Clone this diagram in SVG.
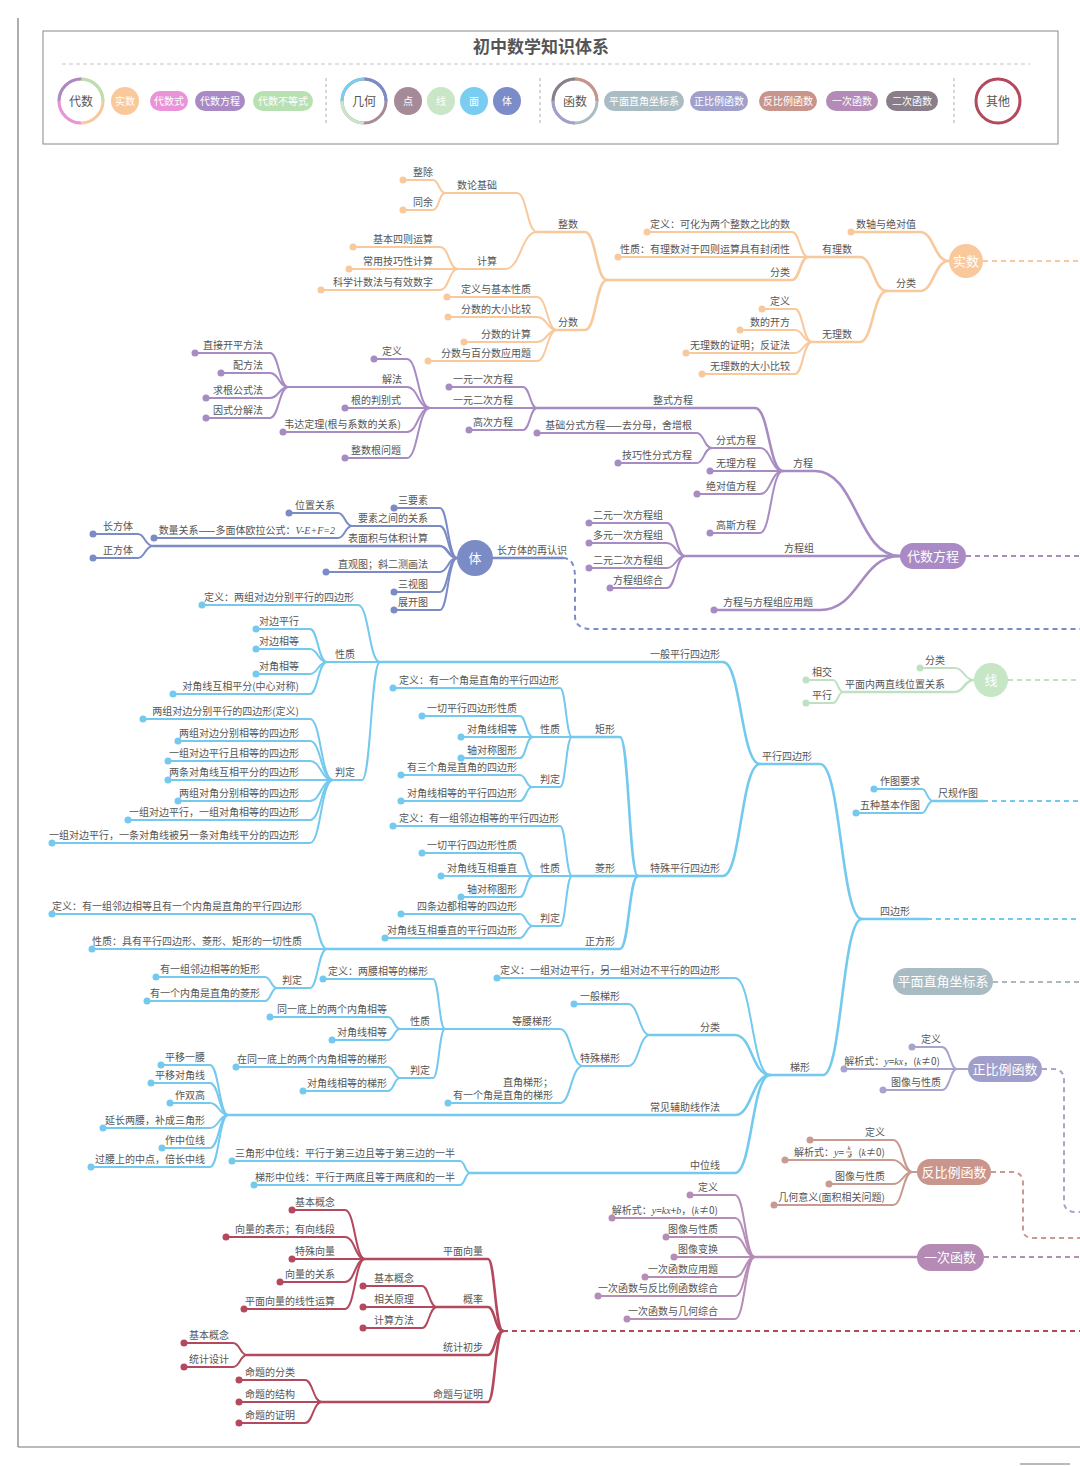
<svg xmlns="http://www.w3.org/2000/svg" width="1080" height="1466" viewBox="0 0 1080 1466">
<style>
text{font-family:"Noto Sans CJK SC","Noto Sans",sans-serif;font-size:10px;fill:#555}
.e{text-anchor:end}.m{text-anchor:middle}
.w{fill:#fff}
.mi{font-family:"Liberation Serif",serif;font-style:italic}
path{fill:none;stroke-width:2;stroke-linecap:round}
.o{stroke:#f7c99d}.p{stroke:#a78bc3}.b{stroke:#7a8bc6}.c{stroke:#74c9ef}.g{stroke:#c0e1c1}
.z{stroke:#a7a5cc}.f{stroke:#c99a92}.y{stroke:#b68db7}.r{stroke:#b4485c}.q{stroke:#abb8bf}
.k{stroke-width:2.6}
.d{stroke-dasharray:5 4;stroke-linecap:butt}
.do{fill:#f7c99d}.dp{fill:#a78bc3}.db{fill:#7a8bc6}.dc{fill:#74c9ef}.dg{fill:#c0e1c1}
.dz{fill:#a7a5cc}.df{fill:#c99a92}.dy{fill:#b68db7}.dr{fill:#b4485c}
</style>
<g id="frame">
<line x1="18" y1="18" x2="18" y2="1447" stroke="#777" stroke-width="1.2"/>
<line x1="18" y1="1447" x2="1080" y2="1447" stroke="#777" stroke-width="1.2"/>
<line x1="1020" y1="1464" x2="1070" y2="1464" stroke="#777" stroke-width="1.2"/>
</g>
<g id="legend">
<rect x="43" y="31" width="1015" height="113" fill="none" stroke="#888" stroke-width="1"/>
<text x="541" y="53" class="m" style="font-size:17px;font-weight:bold;fill:#555">初中数学知识体系</text>
<line x1="62" y1="64" x2="1030" y2="64" stroke="#c4c4c4" stroke-width="1.2" stroke-dasharray="4 3"/>
<g id="lg-daishu">
<circle cx="81" cy="101" r="22" fill="#fff" stroke="#f8c89c" stroke-width="3"/>
<circle cx="81" cy="101" r="22" fill="none" stroke="#e994d8" stroke-width="3" stroke-dasharray="34.5 103.7" stroke-dashoffset="-34.5"/>
<circle cx="81" cy="101" r="22" fill="none" stroke="#a98ac4" stroke-width="3" stroke-dasharray="34.5 103.7" stroke-dashoffset="-69"/>
<circle cx="81" cy="101" r="22" fill="none" stroke="#b9e0b2" stroke-width="3" stroke-dasharray="34.5 103.7" stroke-dashoffset="-103.6"/>
<text x="81" y="106" class="m" style="font-size:12px">代数</text>
</g>
<g id="lg-shishu"><circle cx="125" cy="101" r="14" fill="#f9c89b"/><text x="125" y="105" class="m w">实数</text></g>
<g id="lg-daishushi"><rect x="150" y="91" width="38" height="20" rx="10" fill="#e994d8"/><text x="169" y="105" class="m w">代数式</text></g>
<g id="lg-fangcheng"><rect x="195" y="91" width="50" height="20" rx="10" fill="#a98ac4"/><text x="220" y="105" class="m w">代数方程</text></g>
<g id="lg-budengshi"><rect x="253" y="91" width="60" height="20" rx="10" fill="#b9e0b2"/><text x="283" y="105" class="m w">代数不等式</text></g>
<line x1="326" y1="78" x2="326" y2="124" stroke="#bbb" stroke-width="1.2" stroke-dasharray="3 3"/>
<g id="lg-jihe">
<circle cx="364" cy="101" r="22" fill="#fff" stroke="#a58b98" stroke-width="3"/>
<circle cx="364" cy="101" r="22" fill="none" stroke="#c9e6c6" stroke-width="3" stroke-dasharray="34.5 103.7" stroke-dashoffset="-34.5"/>
<circle cx="364" cy="101" r="22" fill="none" stroke="#79cdf0" stroke-width="3" stroke-dasharray="34.5 103.7" stroke-dashoffset="-69"/>
<circle cx="364" cy="101" r="22" fill="none" stroke="#7c8cc8" stroke-width="3" stroke-dasharray="34.5 103.7" stroke-dashoffset="-103.6"/>
<text x="364" y="106" class="m" style="font-size:12px">几何</text>
</g>
<g id="lg-dian"><circle cx="408" cy="101" r="14" fill="#a58b98"/><text x="408" y="105" class="m w">点</text></g>
<g id="lg-xian"><circle cx="441" cy="101" r="14" fill="#c9e6c6"/><text x="441" y="105" class="m w">线</text></g>
<g id="lg-mian"><circle cx="474" cy="101" r="14" fill="#79cdf0"/><text x="474" y="105" class="m w">面</text></g>
<g id="lg-ti"><circle cx="507" cy="101" r="14" fill="#7c8cc8"/><text x="507" y="105" class="m w">体</text></g>
<line x1="540" y1="78" x2="540" y2="124" stroke="#bbb" stroke-width="1.2" stroke-dasharray="3 3"/>
<g id="lg-hanshu">
<circle cx="575" cy="101" r="22" fill="#fff" stroke="#a9bcc4" stroke-width="3"/>
<circle cx="575" cy="101" r="22" fill="none" stroke="#a1a0cc" stroke-width="3" stroke-dasharray="34.5 103.7" stroke-dashoffset="-34.5"/>
<circle cx="575" cy="101" r="22" fill="none" stroke="#8a7e8a" stroke-width="3" stroke-dasharray="34.5 103.7" stroke-dashoffset="-69"/>
<circle cx="575" cy="101" r="22" fill="none" stroke="#c8958d" stroke-width="3" stroke-dasharray="34.5 103.7" stroke-dashoffset="-103.6"/>
<text x="575" y="106" class="m" style="font-size:12px">函数</text>
</g>
<g id="lg-zuobiao"><rect x="604" y="91" width="80" height="20" rx="10" fill="#a9bcc4"/><text x="644" y="105" class="m w">平面直角坐标系</text></g>
<g id="lg-zheng"><rect x="690" y="91" width="58" height="20" rx="10" fill="#a1a0cc"/><text x="719" y="105" class="m w">正比例函数</text></g>
<g id="lg-fan"><rect x="759" y="91" width="58" height="20" rx="10" fill="#c8958d"/><text x="788" y="105" class="m w">反比例函数</text></g>
<g id="lg-yici"><rect x="826" y="91" width="52" height="20" rx="10" fill="#b48bb7"/><text x="852" y="105" class="m w">一次函数</text></g>
<g id="lg-erci"><rect x="886" y="91" width="52" height="20" rx="10" fill="#8a7e8a"/><text x="912" y="105" class="m w">二次函数</text></g>
<line x1="954" y1="78" x2="954" y2="124" stroke="#bbb" stroke-width="1.2" stroke-dasharray="3 3"/>
<g id="lg-qita"><circle cx="998" cy="101" r="22" fill="#fff" stroke="#b4485c" stroke-width="3"/><text x="998" y="106" class="m" style="font-size:12px">其他</text></g>
</g>

<g id="connectors">
<!-- 实数 -->
<path class="o k" d="M851 232H920C934 232 934 261 949 261"/>
<path class="o k" d="M887 291H920C934 291 934 261 949 261"/>
<path class="o k" d="M808 257H860C873 257 873 291 887 291"/>
<path class="o k" d="M812 342H860C873 342 873 291 887 291"/>
<path class="o" d="M647 232H792C800 232 800 257 808 257"/>
<path class="o" d="M618 257H808"/>
<path class="o k" d="M607 280H792C800 280 800 257 808 257"/>
<path class="o k" d="M537 232H585C596 232 596 280 607 280"/>
<path class="o k" d="M557 330H585C596 330 596 280 607 280"/>
<path class="o" d="M445 193H517C527 193 527 232 537 232"/>
<path class="o" d="M458 269H505C521 269 521 232 537 232"/>
<path class="o" d="M403 180H433C439 180 439 193 445 193"/>
<path class="o" d="M403 210H433C439 210 439 193 445 193"/>
<path class="o" d="M353 247H440C449 247 449 269 458 269"/>
<path class="o" d="M349 269H458"/>
<path class="o" d="M321 290H440C449 290 449 269 458 269"/>
<path class="o" d="M447 297H537C547 297 547 330 557 330"/>
<path class="o" d="M448 317H537C547 317 547 330 557 330"/>
<path class="o" d="M464 342H537C547 342 547 330 557 330"/>
<path class="o" d="M428 361H537C547 361 547 330 557 330"/>
<path class="o" d="M762 309H795C803 309 803 342 812 342"/>
<path class="o" d="M740 330H795C803 330 803 342 812 342"/>
<path class="o" d="M686 353H795C803 353 803 342 812 342"/>
<path class="o" d="M702 374H795C803 374 803 342 812 342"/>
<path class="o d" d="M983 261H1080"/>
<!-- 代数方程 -->
<path class="p k" d="M783 471H815C857 471 857 556 900 556"/>
<path class="p k" d="M685 556H900"/>
<path class="p k" d="M714 610H820C860 610 860 556 900 556"/>
<path class="p k" d="M537 408H755C769 408 769 471 783 471"/>
<path class="p" d="M712 448H760C771 448 771 471 783 471"/>
<path class="p" d="M710 471H783"/>
<path class="p" d="M697 494H760C771 494 771 471 783 471"/>
<path class="p" d="M710 533H760C771 533 771 471 783 471"/>
<path class="p" d="M449 387H523C530 387 530 408 537 408"/>
<path class="p" d="M430 408H537"/>
<path class="p" d="M469 430H523C530 430 530 408 537 408"/>
<path class="p" d="M374 359H407C418 359 418 408 430 408"/>
<path class="p" d="M288 387H407C418 387 418 408 430 408"/>
<path class="p" d="M345 408H430"/>
<path class="p" d="M283 432H407C418 432 418 408 430 408"/>
<path class="p" d="M345 458H407C418 458 418 408 430 408"/>
<path class="p" d="M195 353H270C279 353 279 387 288 387"/>
<path class="p" d="M221 373H270C279 373 279 387 288 387"/>
<path class="p" d="M206 398H270C279 398 279 387 288 387"/>
<path class="p" d="M206 418H270C279 418 279 387 288 387"/>
<path class="p" d="M537 433H697C704 433 704 448 712 448"/>
<path class="p" d="M618 463H697C704 463 704 448 712 448"/>
<path class="p" d="M589 523H667C676 523 676 556 685 556"/>
<path class="p" d="M589 543H667C676 543 676 556 685 556"/>
<path class="p" d="M589 568H667C676 568 676 556 685 556"/>
<path class="p" d="M610 588H667C676 588 676 556 685 556"/>
<path class="p d" d="M966 556H1080"/>
<!-- 体 -->
<path class="b k" d="M493 558H563"/>
<path class="b d" d="M563 558C572 558 575 566 575 578V616C575 625 581 629 592 629H1080"/>
<path class="b" d="M394 508H440C448 508 448 558 457 558"/>
<path class="b" d="M352 526H440C448 526 448 558 457 558"/>
<path class="b k" d="M153 546H440C448 546 448 558 457 558"/>
<path class="b" d="M326 572H440C448 572 448 558 457 558"/>
<path class="b" d="M394 592H440C448 592 448 558 457 558"/>
<path class="b" d="M394 610H440C448 610 448 558 457 558"/>
<path class="b k" d="M457 558H475"/>
<path class="b" d="M289 513H338C345 513 345 526 352 526"/>
<path class="b" d="M154 538H338C345 538 345 526 352 526"/>
<path class="b" d="M93 534H138C145 534 145 546 153 546"/>
<path class="b" d="M93 558H138C145 558 145 546 153 546"/>
<!-- 面: 四边形 -->
<path class="c k" d="M862 919H927"/>
<path class="c d" d="M927 919H1080"/>
<path class="c k" d="M760 764H820C841 764 841 919 862 919"/>
<path class="c k" d="M770 1075H823C842 1075 842 919 862 919"/>
<path class="c k" d="M380 662H723C741 662 741 764 760 764"/>
<path class="c k" d="M638 876H723C741 876 741 764 760 764"/>
<path class="c" d="M202 605H358C369 605 369 662 380 662"/>
<path class="c" d="M327 662H380"/>
<path class="c" d="M333 780H362C371 780 371 662 380 662"/>
<path class="c" d="M256 629H310C318 629 318 662 327 662"/>
<path class="c" d="M256 649H310C318 649 318 662 327 662"/>
<path class="c" d="M256 674H310C318 674 318 662 327 662"/>
<path class="c" d="M173 694H310C318 694 318 662 327 662"/>
<path class="c" d="M143 719H310C321 719 321 780 333 780"/>
<path class="c" d="M178 741H310C321 741 321 780 333 780"/>
<path class="c" d="M168 761H310C321 761 321 780 333 780"/>
<path class="c" d="M168 780H333"/>
<path class="c" d="M178 801H310C321 801 321 780 333 780"/>
<path class="c" d="M128 820H310C321 820 321 780 333 780"/>
<path class="c" d="M52 843H310C321 843 321 780 333 780"/>
<path class="c k" d="M572 737H620C629 737 629 876 638 876"/>
<path class="c k" d="M572 876H638"/>
<path class="c k" d="M327 949H620C629 949 629 876 638 876"/>
<path class="c" d="M393 688H560C566 688 566 737 572 737"/>
<path class="c" d="M533 737H572"/>
<path class="c" d="M532 787H560C566 787 566 737 572 737"/>
<path class="c" d="M422 716H520C526 716 526 737 533 737"/>
<path class="c" d="M461 737H533"/>
<path class="c" d="M461 758H520C526 758 526 737 533 737"/>
<path class="c" d="M401 775H520C526 775 526 787 532 787"/>
<path class="c" d="M401 801H520C526 801 526 787 532 787"/>
<path class="c" d="M393 826H560C566 826 566 876 572 876"/>
<path class="c" d="M533 876H572"/>
<path class="c" d="M533 926H560C566 926 566 876 572 876"/>
<path class="c" d="M422 853H520C526 853 526 876 533 876"/>
<path class="c" d="M441 876H533"/>
<path class="c" d="M461 897H520C526 897 526 876 533 876"/>
<path class="c" d="M401 914H520C526 914 526 926 533 926"/>
<path class="c" d="M385 938H520C526 938 526 926 533 926"/>
<path class="c" d="M52 914H310C318 914 318 949 327 949"/>
<path class="c" d="M92 949H327"/>
<path class="c" d="M277 988H310C318 988 318 949 327 949"/>
<path class="c" d="M156 977H265C271 977 271 988 277 988"/>
<path class="c" d="M147 1001H265C271 1001 271 988 277 988"/>
<path class="c" d="M497 978H735C752 978 752 1075 770 1075"/>
<path class="c k" d="M650 1035H735C752 1035 752 1075 770 1075"/>
<path class="c k" d="M228 1115H735C752 1115 752 1075 770 1075"/>
<path class="c k" d="M470 1173H735C752 1173 752 1075 770 1075"/>
<path class="c" d="M574 1004H628C639 1004 639 1035 650 1035"/>
<path class="c" d="M583 1066H628C639 1066 639 1035 650 1035"/>
<path class="c" d="M445 1029H560C571 1029 571 1066 583 1066"/>
<path class="c" d="M448 1103H560C571 1103 571 1066 583 1066"/>
<path class="c" d="M323 979H433C439 979 439 1029 445 1029"/>
<path class="c" d="M400 1029H445"/>
<path class="c" d="M400 1078H433C439 1078 439 1029 445 1029"/>
<path class="c" d="M270 1017H388C394 1017 394 1029 400 1029"/>
<path class="c" d="M332 1040H388C394 1040 394 1029 400 1029"/>
<path class="c" d="M236 1067H388C394 1067 394 1078 400 1078"/>
<path class="c" d="M303 1091H388C394 1091 394 1078 400 1078"/>
<path class="c" d="M161 1065H210C219 1065 219 1115 228 1115"/>
<path class="c" d="M151 1083H210C219 1083 219 1115 228 1115"/>
<path class="c" d="M170 1103H210C219 1103 219 1115 228 1115"/>
<path class="c" d="M103 1128H210C219 1128 219 1115 228 1115"/>
<path class="c" d="M162 1148H210C219 1148 219 1115 228 1115"/>
<path class="c" d="M91 1167H210C219 1167 219 1115 228 1115"/>
<path class="c" d="M232 1161H460C465 1161 465 1173 470 1173"/>
<path class="c" d="M254 1185H460C465 1185 465 1173 470 1173"/>
<!-- 尺规作图 -->
<path class="c k" d="M933 801H983"/>
<path class="c d" d="M983 801H1080"/>
<path class="c" d="M874 789H922C927 789 927 801 933 801"/>
<path class="c" d="M856 813H922C927 813 927 801 933 801"/>
<!-- 线 -->
<path class="g d" d="M1008 680H1080"/>
<path class="g" d="M920 668H955C964 668 964 680 974 680"/>
<path class="g k" d="M843 692H955C964 692 964 680 974 680"/>
<path class="g" d="M806 680H833C838 680 838 692 843 692"/>
<path class="g" d="M806 703H833C838 703 838 692 843 692"/>
<!-- 平面直角坐标系 -->
<path class="q d" d="M993 982H1080"/>
<!-- 正比例函数 -->
<path class="z" d="M912 1047H942C950 1047 950 1069 957 1069"/>
<path class="z" d="M844 1069H968"/>
<path class="z" d="M883 1090H942C950 1090 950 1069 957 1069"/>
<path class="z d" d="M1042 1069H1054C1060 1069 1064 1073 1064 1080V1202C1064 1208 1068 1212 1075 1212H1080"/>
<!-- 反比例函数 -->
<path class="f" d="M810 1140H893C903 1140 903 1172 912 1172"/>
<path class="f" d="M785 1160H893C903 1160 903 1172 912 1172"/>
<path class="f" d="M829 1184H893C903 1184 903 1172 912 1172"/>
<path class="f" d="M774 1205H893C903 1205 903 1172 912 1172"/>
<path class="f" d="M912 1172H917"/>
<path class="f d" d="M991 1172H1012C1019 1172 1023 1176 1023 1183V1230C1023 1235 1027 1238 1033 1238H1080"/>
<!-- 一次函数 -->
<path class="y k" d="M755 1257H917"/>
<path class="y d" d="M984 1257H1080"/>
<path class="y" d="M690 1195H735C745 1195 745 1257 755 1257"/>
<path class="y" d="M612 1218H735C745 1218 745 1257 755 1257"/>
<path class="y" d="M666 1237H735C745 1237 745 1257 755 1257"/>
<path class="y" d="M674 1257H755"/>
<path class="y" d="M645 1277H735C745 1277 745 1257 755 1257"/>
<path class="y" d="M598 1296H735C745 1296 745 1257 755 1257"/>
<path class="y" d="M627 1319H735C745 1319 745 1257 755 1257"/>
<!-- 其他 -->
<path class="r d" d="M503 1331H1080"/>
<path class="r k" d="M365 1259H488C495 1259 495 1331 503 1331"/>
<path class="r k" d="M437 1307H488C495 1307 495 1331 503 1331"/>
<path class="r k" d="M247 1355H488C495 1355 495 1331 503 1331"/>
<path class="r k" d="M322 1402H488C495 1402 495 1331 503 1331"/>
<path class="r" d="M292 1210H345C355 1210 355 1259 365 1259"/>
<path class="r" d="M226 1237H345C355 1237 355 1259 365 1259"/>
<path class="r" d="M292 1259H365"/>
<path class="r" d="M280 1282H345C355 1282 355 1259 365 1259"/>
<path class="r" d="M244 1309H345C355 1309 355 1259 365 1259"/>
<path class="r" d="M363 1286H422C429 1286 429 1307 437 1307"/>
<path class="r" d="M363 1307H437"/>
<path class="r" d="M363 1328H422C429 1328 429 1307 437 1307"/>
<path class="r" d="M184 1343H233C240 1343 240 1355 247 1355"/>
<path class="r" d="M184 1367H233C240 1367 240 1355 247 1355"/>
<path class="r" d="M239 1380H305C313 1380 313 1402 322 1402"/>
<path class="r" d="M239 1402H322"/>
<path class="r" d="M239 1423H305C313 1423 313 1402 322 1402"/>
</g>

<!-- ===== 实数 ===== -->
<g id="shishu"><circle cx="966" cy="261" r="17" fill="#f9c89b"/><text x="966" y="266" class="m w" style="font-size:13px">实数</text></g>
<g id="ss-shuzhou"><circle cx="851" cy="232" r="3.5" class="do"/><text x="916" y="228" class="e">数轴与绝对值</text></g>
<g id="ss-fenlei"><text x="916" y="287" class="e">分类</text></g>
<g id="ss-youli"><text x="852" y="253" class="e">有理数</text></g>
<g id="ss-wuli"><text x="852" y="338" class="e">无理数</text></g>
<g id="yl-dingyi"><circle cx="647" cy="232" r="3.5" class="do"/><text x="790" y="228" class="e">定义：可化为两个整数之比的数</text></g>
<g id="yl-xingzhi"><circle cx="618" cy="257" r="3.5" class="do"/><text x="790" y="253" class="e">性质：有理数对于四则运算具有封闭性</text></g>
<g id="yl-fenlei"><text x="790" y="276" class="e">分类</text></g>
<g id="zhengshu"><text x="578" y="228" class="e">整数</text></g>
<g id="fenshu"><text x="578" y="326" class="e">分数</text></g>
<g id="shulun"><text x="497" y="189" class="e">数论基础</text></g>
<g id="jisuan"><text x="497" y="265" class="e">计算</text></g>
<g id="zhengchu"><circle cx="403" cy="180" r="3.5" class="do"/><text x="433" y="176" class="e">整除</text></g>
<g id="tongyu"><circle cx="403" cy="210" r="3.5" class="do"/><text x="433" y="206" class="e">同余</text></g>
<g id="siz"><circle cx="353" cy="247" r="3.5" class="do"/><text x="433" y="243" class="e">基本四则运算</text></g>
<g id="jiqiao"><circle cx="349" cy="269" r="3.5" class="do"/><text x="433" y="265" class="e">常用技巧性计算</text></g>
<g id="kexue"><circle cx="321" cy="290" r="3.5" class="do"/><text x="433" y="286" class="e">科学计数法与有效数字</text></g>
<g id="fs-dingyi"><circle cx="447" cy="297" r="3.5" class="do"/><text x="531" y="293" class="e">定义与基本性质</text></g>
<g id="fs-bijiao"><circle cx="448" cy="317" r="3.5" class="do"/><text x="531" y="313" class="e">分数的大小比较</text></g>
<g id="fs-jisuan"><circle cx="464" cy="342" r="3.5" class="do"/><text x="531" y="338" class="e">分数的计算</text></g>
<g id="fs-yingyong"><circle cx="428" cy="361" r="3.5" class="do"/><text x="531" y="357" class="e">分数与百分数应用题</text></g>
<g id="wl-dingyi"><circle cx="762" cy="309" r="3.5" class="do"/><text x="790" y="305" class="e">定义</text></g>
<g id="wl-kaifang"><circle cx="740" cy="330" r="3.5" class="do"/><text x="790" y="326" class="e">数的开方</text></g>
<g id="wl-zhengming"><circle cx="686" cy="353" r="3.5" class="do"/><text x="790" y="349" class="e">无理数的证明；反证法</text></g>
<g id="wl-bijiao"><circle cx="702" cy="374" r="3.5" class="do"/><text x="790" y="370" class="e">无理数的大小比较</text></g>

<!-- ===== 代数方程 ===== -->
<g id="daishufangcheng"><rect x="900" y="543" width="66" height="26" rx="13" fill="#a98ac4"/><text x="933" y="561" class="m w" style="font-size:13px">代数方程</text></g>
<g id="fangcheng"><text x="813" y="467" class="e">方程</text></g>
<g id="fangchengzu"><text x="814" y="552" class="e">方程组</text></g>
<g id="fcz-yingyong"><circle cx="714" cy="610" r="3.5" class="dp"/><text x="813" y="606" class="e">方程与方程组应用题</text></g>
<g id="zhengshifc"><text x="693" y="404" class="e">整式方程</text></g>
<g id="fenshifc"><text x="756" y="444" class="e">分式方程</text></g>
<g id="wulifc"><circle cx="710" cy="471" r="3.5" class="dp"/><text x="756" y="467" class="e">无理方程</text></g>
<g id="juedui"><circle cx="697" cy="494" r="3.5" class="dp"/><text x="756" y="490" class="e">绝对值方程</text></g>
<g id="gaosi"><circle cx="710" cy="533" r="3.5" class="dp"/><text x="756" y="529" class="e">高斯方程</text></g>
<g id="yiyuanyici"><circle cx="449" cy="387" r="3.5" class="dp"/><text x="513" y="383" class="e">一元一次方程</text></g>
<g id="yiyuanerci"><text x="513" y="404" class="e">一元二次方程</text></g>
<g id="gaoci"><circle cx="469" cy="430" r="3.5" class="dp"/><text x="513" y="426" class="e">高次方程</text></g>
<g id="ee-dingyi"><circle cx="374" cy="359" r="3.5" class="dp"/><text x="402" y="355" class="e">定义</text></g>
<g id="ee-jiefa"><text x="402" y="383" class="e">解法</text></g>
<g id="ee-panbie"><circle cx="345" cy="408" r="3.5" class="dp"/><text x="401" y="404" class="e">根的判别式</text></g>
<g id="ee-weida"><circle cx="283" cy="432" r="3.5" class="dp"/><text x="401" y="428" class="e">韦达定理(根与系数的关系)</text></g>
<g id="ee-zhengshugen"><circle cx="345" cy="458" r="3.5" class="dp"/><text x="401" y="454" class="e">整数根问题</text></g>
<g id="jf-kaifang"><circle cx="195" cy="353" r="3.5" class="dp"/><text x="263" y="349" class="e">直接开平方法</text></g>
<g id="jf-peifang"><circle cx="221" cy="373" r="3.5" class="dp"/><text x="263" y="369" class="e">配方法</text></g>
<g id="jf-qiugen"><circle cx="206" cy="398" r="3.5" class="dp"/><text x="263" y="394" class="e">求根公式法</text></g>
<g id="jf-yinshi"><circle cx="206" cy="418" r="3.5" class="dp"/><text x="263" y="414" class="e">因式分解法</text></g>
<g id="fs-jichu"><circle cx="537" cy="433" r="3.5" class="dp"/><text x="692" y="429" class="e">基础分式方程——去分母，舍增根</text></g>
<g id="fs-jiqiao"><circle cx="618" cy="463" r="3.5" class="dp"/><text x="692" y="459" class="e">技巧性分式方程</text></g>
<g id="fcz-1"><circle cx="589" cy="523" r="3.5" class="dp"/><text x="663" y="519" class="e">二元一次方程组</text></g>
<g id="fcz-2"><circle cx="589" cy="543" r="3.5" class="dp"/><text x="663" y="539" class="e">多元一次方程组</text></g>
<g id="fcz-3"><circle cx="589" cy="568" r="3.5" class="dp"/><text x="663" y="564" class="e">二元二次方程组</text></g>
<g id="fcz-4"><circle cx="610" cy="588" r="3.5" class="dp"/><text x="663" y="584" class="e">方程组综合</text></g>

<!-- ===== 体 ===== -->
<g id="ti"><circle cx="475" cy="558" r="18" fill="#7a8bc6"/><text x="475" y="563" class="m w" style="font-size:13px">体</text></g>
<g id="ti-zairenshi"><text x="497" y="554">长方体的再认识</text></g>
<g id="ti-sanyaosu"><circle cx="394" cy="508" r="3.5" class="db"/><text x="428" y="504" class="e">三要素</text></g>
<g id="ti-guanxi"><text x="428" y="522" class="e">要素之间的关系</text></g>
<g id="ti-biaomianji"><text x="428" y="542" class="e">表面积与体积计算</text></g>
<g id="ti-zhiguan"><circle cx="326" cy="572" r="3.5" class="db"/><text x="428" y="568" class="e">直观图；斜二测画法</text></g>
<g id="ti-sanshi"><circle cx="394" cy="592" r="3.5" class="db"/><text x="428" y="588" class="e">三视图</text></g>
<g id="ti-zhankai"><circle cx="394" cy="610" r="3.5" class="db"/><text x="428" y="606" class="e">展开图</text></g>
<g id="ti-weizhi"><circle cx="289" cy="513" r="3.5" class="db"/><text x="335" y="509" class="e">位置关系</text></g>
<g id="ti-shuliang"><circle cx="154" cy="538" r="3.5" class="db"/><text x="335" y="534" class="e">数量关系——多面体欧拉公式：<tspan class="mi">V-E+F=2</tspan></text></g>
<g id="ti-changfang"><circle cx="93" cy="534" r="3.5" class="db"/><text x="133" y="530" class="e">长方体</text></g>
<g id="ti-zhengfang"><circle cx="93" cy="558" r="3.5" class="db"/><text x="133" y="554" class="e">正方体</text></g>

<!-- ===== 四边形 ===== -->
<g id="sibianxing"><text x="895" y="915" class="m">四边形</text></g>
<g id="pingxing"><text x="787" y="760" class="m">平行四边形</text></g>
<g id="tixing"><text x="800" y="1071" class="m">梯形</text></g>
<g id="yiban-px"><text x="720" y="658" class="e">一般平行四边形</text></g>
<g id="teshu-px"><text x="720" y="872" class="e">特殊平行四边形</text></g>
<g id="px-dingyi"><circle cx="202" cy="605" r="3.5" class="dc"/><text x="354" y="601" class="e">定义：两组对边分别平行的四边形</text></g>
<g id="px-xingzhi"><text x="355" y="658" class="e">性质</text></g>
<g id="px-panding"><text x="355" y="776" class="e">判定</text></g>
<g id="pxz-1"><circle cx="256" cy="629" r="3.5" class="dc"/><text x="299" y="625" class="e">对边平行</text></g>
<g id="pxz-2"><circle cx="256" cy="649" r="3.5" class="dc"/><text x="299" y="645" class="e">对边相等</text></g>
<g id="pxz-3"><circle cx="256" cy="674" r="3.5" class="dc"/><text x="299" y="670" class="e">对角相等</text></g>
<g id="pxz-4"><circle cx="173" cy="694" r="3.5" class="dc"/><text x="299" y="690" class="e">对角线互相平分(中心对称)</text></g>
<g id="pxp-1"><circle cx="143" cy="719" r="3.5" class="dc"/><text x="299" y="715" class="e">两组对边分别平行的四边形(定义)</text></g>
<g id="pxp-2"><circle cx="178" cy="741" r="3.5" class="dc"/><text x="299" y="737" class="e">两组对边分别相等的四边形</text></g>
<g id="pxp-3"><circle cx="168" cy="761" r="3.5" class="dc"/><text x="299" y="757" class="e">一组对边平行且相等的四边形</text></g>
<g id="pxp-4"><circle cx="168" cy="780" r="3.5" class="dc"/><text x="299" y="776" class="e">两条对角线互相平分的四边形</text></g>
<g id="pxp-5"><circle cx="178" cy="801" r="3.5" class="dc"/><text x="299" y="797" class="e">两组对角分别相等的四边形</text></g>
<g id="pxp-6"><circle cx="128" cy="820" r="3.5" class="dc"/><text x="299" y="816" class="e">一组对边平行，一组对角相等的四边形</text></g>
<g id="pxp-7"><circle cx="52" cy="843" r="3.5" class="dc"/><text x="299" y="839" class="e">一组对边平行，一条对角线被另一条对角线平分的四边形</text></g>
<g id="juxing"><text x="605" y="733" class="m">矩形</text></g>
<g id="lingxing"><text x="605" y="872" class="m">菱形</text></g>
<g id="zhengfangxing"><text x="600" y="945" class="m">正方形</text></g>
<g id="jx-dingyi"><circle cx="393" cy="688" r="3.5" class="dc"/><text x="559" y="684" class="e">定义：有一个角是直角的平行四边形</text></g>
<g id="jx-xingzhi"><text x="550" y="733" class="m">性质</text></g>
<g id="jx-panding"><text x="550" y="783" class="m">判定</text></g>
<g id="jxz-1"><circle cx="422" cy="716" r="3.5" class="dc"/><text x="517" y="712" class="e">一切平行四边形性质</text></g>
<g id="jxz-2"><circle cx="461" cy="737" r="3.5" class="dc"/><text x="517" y="733" class="e">对角线相等</text></g>
<g id="jxz-3"><circle cx="461" cy="758" r="3.5" class="dc"/><text x="517" y="754" class="e">轴对称图形</text></g>
<g id="jxp-1"><circle cx="401" cy="775" r="3.5" class="dc"/><text x="517" y="771" class="e">有三个角是直角的四边形</text></g>
<g id="jxp-2"><circle cx="401" cy="801" r="3.5" class="dc"/><text x="517" y="797" class="e">对角线相等的平行四边形</text></g>
<g id="lx-dingyi"><circle cx="393" cy="826" r="3.5" class="dc"/><text x="559" y="822" class="e">定义：有一组邻边相等的平行四边形</text></g>
<g id="lx-xingzhi"><text x="550" y="872" class="m">性质</text></g>
<g id="lx-panding"><text x="550" y="922" class="m">判定</text></g>
<g id="lxz-1"><circle cx="422" cy="853" r="3.5" class="dc"/><text x="517" y="849" class="e">一切平行四边形性质</text></g>
<g id="lxz-2"><circle cx="441" cy="876" r="3.5" class="dc"/><text x="517" y="872" class="e">对角线互相垂直</text></g>
<g id="lxz-3"><circle cx="461" cy="897" r="3.5" class="dc"/><text x="517" y="893" class="e">轴对称图形</text></g>
<g id="lxp-1"><circle cx="401" cy="914" r="3.5" class="dc"/><text x="517" y="910" class="e">四条边都相等的四边形</text></g>
<g id="lxp-2"><circle cx="385" cy="938" r="3.5" class="dc"/><text x="517" y="934" class="e">对角线互相垂直的平行四边形</text></g>
<g id="zf-dingyi"><circle cx="52" cy="914" r="3.5" class="dc"/><text x="302" y="910" class="e">定义：有一组邻边相等且有一个内角是直角的平行四边形</text></g>
<g id="zf-xingzhi"><circle cx="92" cy="949" r="3.5" class="dc"/><text x="302" y="945" class="e">性质：具有平行四边形、菱形、矩形的一切性质</text></g>
<g id="zf-panding"><text x="292" y="984" class="m">判定</text></g>
<g id="zfp-1"><circle cx="156" cy="977" r="3.5" class="dc"/><text x="260" y="973" class="e">有一组邻边相等的矩形</text></g>
<g id="zfp-2"><circle cx="147" cy="1001" r="3.5" class="dc"/><text x="260" y="997" class="e">有一个内角是直角的菱形</text></g>
<g id="tx-dingyi"><circle cx="497" cy="978" r="3.5" class="dc"/><text x="720" y="974" class="e">定义：一组对边平行，另一组对边不平行的四边形</text></g>
<g id="tx-fenlei"><text x="720" y="1031" class="e">分类</text></g>
<g id="tx-fuzhu"><text x="720" y="1111" class="e">常见辅助线作法</text></g>
<g id="tx-zhongwei"><text x="720" y="1169" class="e">中位线</text></g>
<g id="tx-yiban"><circle cx="574" cy="1004" r="3.5" class="dc"/><text x="620" y="1000" class="e">一般梯形</text></g>
<g id="tx-teshu"><text x="620" y="1062" class="e">特殊梯形</text></g>
<g id="tx-dengyao"><text x="552" y="1025" class="e">等腰梯形</text></g>
<g id="tx-zhijiao"><circle cx="448" cy="1103" r="3.5" class="dc"/><text x="553" y="1099" class="e"><tspan x="553" dy="-13">直角梯形；</tspan><tspan x="553" dy="13">有一个角是直角的梯形</tspan></text></g>
<g id="dy-dingyi"><circle cx="323" cy="979" r="3.5" class="dc"/><text x="428" y="975" class="e">定义：两腰相等的梯形</text></g>
<g id="dy-xingzhi"><text x="420" y="1025" class="m">性质</text></g>
<g id="dy-panding"><text x="420" y="1074" class="m">判定</text></g>
<g id="dyz-1"><circle cx="270" cy="1017" r="3.5" class="dc"/><text x="387" y="1013" class="e">同一底上的两个内角相等</text></g>
<g id="dyz-2"><circle cx="332" cy="1040" r="3.5" class="dc"/><text x="387" y="1036" class="e">对角线相等</text></g>
<g id="dyp-1"><circle cx="236" cy="1067" r="3.5" class="dc"/><text x="387" y="1063" class="e">在同一底上的两个内角相等的梯形</text></g>
<g id="dyp-2"><circle cx="303" cy="1091" r="3.5" class="dc"/><text x="387" y="1087" class="e">对角线相等的梯形</text></g>
<g id="fz-1"><circle cx="161" cy="1065" r="3.5" class="dc"/><text x="205" y="1061" class="e">平移一腰</text></g>
<g id="fz-2"><circle cx="151" cy="1083" r="3.5" class="dc"/><text x="205" y="1079" class="e">平移对角线</text></g>
<g id="fz-3"><circle cx="170" cy="1103" r="3.5" class="dc"/><text x="205" y="1099" class="e">作双高</text></g>
<g id="fz-4"><circle cx="103" cy="1128" r="3.5" class="dc"/><text x="205" y="1124" class="e">延长两腰，补成三角形</text></g>
<g id="fz-5"><circle cx="162" cy="1148" r="3.5" class="dc"/><text x="205" y="1144" class="e">作中位线</text></g>
<g id="fz-6"><circle cx="91" cy="1167" r="3.5" class="dc"/><text x="205" y="1163" class="e">过腰上的中点，倍长中线</text></g>
<g id="zw-1"><circle cx="232" cy="1161" r="3.5" class="dc"/><text x="455" y="1157" class="e">三角形中位线：平行于第三边且等于第三边的一半</text></g>
<g id="zw-2"><circle cx="254" cy="1185" r="3.5" class="dc"/><text x="455" y="1181" class="e">梯形中位线：平行于两底且等于两底和的一半</text></g>

<!-- ===== 尺规作图 ===== -->
<g id="chigui"><text x="958" y="797" class="m">尺规作图</text></g>
<g id="cg-1"><circle cx="874" cy="789" r="3.5" class="dc"/><text x="920" y="785" class="e">作图要求</text></g>
<g id="cg-2"><circle cx="856" cy="813" r="3.5" class="dc"/><text x="920" y="809" class="e">五种基本作图</text></g>

<!-- ===== 线 ===== -->
<g id="xian"><circle cx="991" cy="680" r="17" fill="#c6e6c6"/><text x="991" y="685" class="m w" style="font-size:13px">线</text></g>
<g id="xian-fenlei"><circle cx="920" cy="668" r="3.5" class="dg"/><text x="945" y="664" class="e">分类</text></g>
<g id="xian-weizhi"><text x="945" y="688" class="e">平面内两直线位置关系</text></g>
<g id="xian-xiangjiao"><circle cx="806" cy="680" r="3.5" class="dg"/><text x="822" y="676" class="m">相交</text></g>
<g id="xian-pingxing"><circle cx="806" cy="703" r="3.5" class="dg"/><text x="822" y="699" class="m">平行</text></g>

<!-- ===== 函数 ===== -->
<g id="zuobiaoxi"><rect x="893" y="968" width="100" height="27" rx="13.5" fill="#a9bcc4"/><text x="943" y="986" class="m w" style="font-size:13px">平面直角坐标系</text></g>
<g id="zhengbili"><rect x="968" y="1056" width="74" height="26" rx="13" fill="#a09fcb"/><text x="1005" y="1074" class="m w" style="font-size:13px">正比例函数</text></g>
<g id="zb-dingyi"><circle cx="912" cy="1047" r="3.5" class="dz"/><text x="941" y="1043" class="e">定义</text></g>
<g id="zb-jiexi"><circle cx="844" cy="1069" r="3.5" class="dz"/><text x="940" y="1065" class="e">解析式：<tspan class="mi">y</tspan>=<tspan class="mi">kx</tspan>，(<tspan class="mi">k</tspan>≠0)</text></g>
<g id="zb-tuxiang"><circle cx="883" cy="1090" r="3.5" class="dz"/><text x="941" y="1086" class="e">图像与性质</text></g>
<g id="fanbili"><rect x="917" y="1159" width="74" height="26" rx="13" fill="#c9958c"/><text x="954" y="1177" class="m w" style="font-size:13px">反比例函数</text></g>
<g id="fb-dingyi"><circle cx="810" cy="1140" r="3.5" class="df"/><text x="885" y="1136" class="e">定义</text></g>
<g id="fb-jiexi"><circle cx="785" cy="1160" r="3.5" class="df"/><text x="794" y="1156">解析式：<tspan class="mi">y</tspan>=</text><text x="849" y="1150" class="m mi" style="font-size:7px">k</text><line x1="846" y1="1152" x2="852" y2="1152" stroke="#666" stroke-width="0.7"/><text x="849" y="1158" class="m mi" style="font-size:7px">x</text><text x="885" y="1156" class="e">，(<tspan class="mi">k</tspan>≠0)</text></g>
<g id="fb-tuxiang"><circle cx="829" cy="1184" r="3.5" class="df"/><text x="885" y="1180" class="e">图像与性质</text></g>
<g id="fb-jihe"><circle cx="774" cy="1205" r="3.5" class="df"/><text x="885" y="1201" class="e">几何意义(面积相关问题)</text></g>
<g id="yicihanshu"><rect x="917" y="1244" width="67" height="27" rx="13.5" fill="#b58ab5"/><text x="950" y="1262" class="m w" style="font-size:13px">一次函数</text></g>
<g id="yc-dingyi"><circle cx="690" cy="1195" r="3.5" class="dy"/><text x="718" y="1191" class="e">定义</text></g>
<g id="yc-jiexi"><circle cx="612" cy="1218" r="3.5" class="dy"/><text x="718" y="1214" class="e">解析式：<tspan class="mi">y</tspan>=<tspan class="mi">kx</tspan>+<tspan class="mi">b</tspan>，(<tspan class="mi">k</tspan>≠0)</text></g>
<g id="yc-tuxiang"><circle cx="666" cy="1237" r="3.5" class="dy"/><text x="718" y="1233" class="e">图像与性质</text></g>
<g id="yc-bianhuan"><circle cx="674" cy="1257" r="3.5" class="dy"/><text x="718" y="1253" class="e">图像变换</text></g>
<g id="yc-yingyong"><circle cx="645" cy="1277" r="3.5" class="dy"/><text x="718" y="1273" class="e">一次函数应用题</text></g>
<g id="yc-fanbili"><circle cx="598" cy="1296" r="3.5" class="dy"/><text x="718" y="1292" class="e">一次函数与反比例函数综合</text></g>
<g id="yc-jihe"><circle cx="627" cy="1319" r="3.5" class="dy"/><text x="718" y="1315" class="e">一次函数与几何综合</text></g>

<!-- ===== 其他 ===== -->
<g id="xiangliang"><text x="483" y="1255" class="e">平面向量</text></g>
<g id="gailv"><text x="483" y="1303" class="e">概率</text></g>
<g id="tongji"><text x="483" y="1351" class="e">统计初步</text></g>
<g id="mingti"><text x="483" y="1398" class="e">命题与证明</text></g>
<g id="xl-1"><circle cx="292" cy="1210" r="3.5" class="dr"/><text x="335" y="1206" class="e">基本概念</text></g>
<g id="xl-2"><circle cx="226" cy="1237" r="3.5" class="dr"/><text x="335" y="1233" class="e">向量的表示；有向线段</text></g>
<g id="xl-3"><circle cx="292" cy="1259" r="3.5" class="dr"/><text x="335" y="1255" class="e">特殊向量</text></g>
<g id="xl-4"><circle cx="280" cy="1282" r="3.5" class="dr"/><text x="335" y="1278" class="e">向量的关系</text></g>
<g id="xl-5"><circle cx="244" cy="1309" r="3.5" class="dr"/><text x="335" y="1305" class="e">平面向量的线性运算</text></g>
<g id="gl-1"><circle cx="363" cy="1286" r="3.5" class="dr"/><text x="414" y="1282" class="e">基本概念</text></g>
<g id="gl-2"><circle cx="363" cy="1307" r="3.5" class="dr"/><text x="414" y="1303" class="e">相关原理</text></g>
<g id="gl-3"><circle cx="363" cy="1328" r="3.5" class="dr"/><text x="414" y="1324" class="e">计算方法</text></g>
<g id="tj-1"><circle cx="184" cy="1343" r="3.5" class="dr"/><text x="229" y="1339" class="e">基本概念</text></g>
<g id="tj-2"><circle cx="184" cy="1367" r="3.5" class="dr"/><text x="229" y="1363" class="e">统计设计</text></g>
<g id="mt-1"><circle cx="239" cy="1380" r="3.5" class="dr"/><text x="295" y="1376" class="e">命题的分类</text></g>
<g id="mt-2"><circle cx="239" cy="1402" r="3.5" class="dr"/><text x="295" y="1398" class="e">命题的结构</text></g>
<g id="mt-3"><circle cx="239" cy="1423" r="3.5" class="dr"/><text x="295" y="1419" class="e">命题的证明</text></g>
</svg>
